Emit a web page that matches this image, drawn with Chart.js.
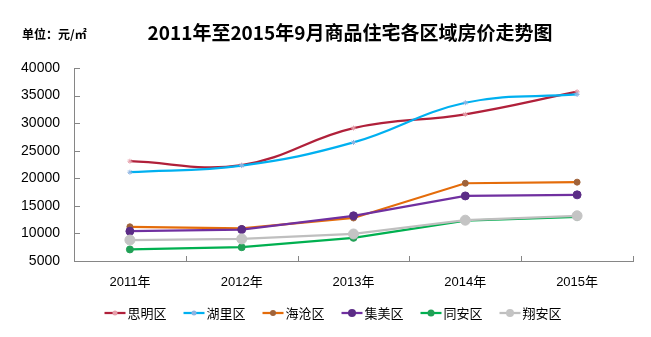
<!DOCTYPE html>
<html><head><meta charset="utf-8">
<script src="https://cdn.jsdelivr.net/npm/chart.js@4.4.1/dist/chart.umd.min.js"></script>
<style>html,body{margin:0;padding:0;background:#fff}#wrap{width:651px;height:337px;position:relative}</style>
</head><body><div id="wrap"><canvas id="c" width="651" height="337"></canvas></div>
<script>
const categories = ['2011年','2012年','2013年','2014年','2015年'];
const siming  = [23100, 22400, 29100, 31600, 35700];
const huli    = [21100, 22300, 26500, 33700, 35200];
const haicang = [11200, 10900, 12800, 19100, 19300];
const jimei   = [10400, 10700, 13200, 16800, 17000];
const tongan  = [7100, 7500, 9200, 12300, 13000];
const xiangan = [8800, 9000, 9900, 12400, 13200];
const seriesNames = ['思明区','湖里区','海沧区','集美区','同安区','翔安区'];
const yTicks = [5000, 10000, 15000, 20000, 25000, 30000, 35000, 40000];
const titleText = '2011年至2015年9月商品住宅各区域房价走势图';
const unitText = '单位：元/㎡';

const CJK = '"Liberation Sans","Noto Sans CJK SC",sans-serif';
const styles = [
  {c:'#B0203A', pc:'#E6A0AC', r:2.5, ps:'star', tension:0.4},
  {c:'#00B0F0', pc:'#8DB4E2', r:2.5, ps:'star', tension:0.4},
  {c:'#E46C0A', pc:'#A0633A', r:3, ps:'circle', tension:0},
  {c:'#7030A0', pc:'#5B2C86', r:4, ps:'circle', tension:0},
  {c:'#00B050', pc:'#21A056', r:3.5, ps:'circle', tension:0},
  {c:'#BFBFBF', pc:'#C4C4C4', r:5, ps:'circle', tension:0}
];
const dataArrays = [siming, huli, haicang, jimei, tongan, xiangan];

const datasets = dataArrays.map((d,i)=>({
  label: seriesNames[i], data: d,
  borderColor: styles[i].c, backgroundColor: styles[i].pc,
  pointBackgroundColor: styles[i].pc, pointBorderColor: styles[i].pc,
  pointRadius: styles[i].r, pointStyle: styles[i].ps, pointBorderWidth: 1,
  borderWidth: 2.25, tension: styles[i].tension, cubicInterpolationMode: 'default',
  order: 5 - i, fill: false
}));

const decor = {
  id: 'decor',
  afterDraw(chart){
    const ctx = chart.ctx, a = chart.chartArea;
    ctx.save();
    ctx.fillStyle = '#000';
    ctx.textBaseline = 'middle';
    ctx.textAlign = 'center';
    ctx.font = 'bold 19px "Noto Sans CJK SC","Liberation Sans",sans-serif';
    ctx.fillText(titleText, 350, 33);
    ctx.textAlign = 'left';
    ctx.font = 'bold 12px "Noto Sans CJK SC","Liberation Sans",sans-serif';
    ctx.fillText(unitText, 22, 34);
    ctx.strokeStyle = '#868686'; ctx.lineWidth = 1;
    const ys = chart.scales.y;
    yTicks.forEach(v=>{
      const y = Math.round(ys.getPixelForValue(v)) + 0.5;
      ctx.beginPath(); ctx.moveTo(a.left, y); ctx.lineTo(a.left + 6, y); ctx.stroke();
    });
    const n = categories.length, step = (a.right - a.left)/n;
    for(let i=1;i<=n;i++){
      const x = Math.round(a.left + step*i) + 0.5;
      ctx.beginPath(); ctx.moveTo(x, a.bottom); ctx.lineTo(x, a.bottom - 5); ctx.stroke();
    }
    ctx.font = '13px "Noto Sans CJK SC","Liberation Sans",sans-serif';
    const lineLen = 21, gap = 2, itemGap = 17;
    const widths = seriesNames.map(s=> lineLen + gap + ctx.measureText(s).width);
    const total = widths.reduce((p,q)=>p+q,0) + itemGap*(n);
    let x = 333 - total/2;
    const ly = 313;
    chart.data.datasets.forEach((ds,i)=>{
      const st = styles[i];
      ctx.strokeStyle = st.c; ctx.lineWidth = 2.25;
      ctx.beginPath(); ctx.moveTo(x, ly); ctx.lineTo(x+lineLen, ly); ctx.stroke();
      ctx.fillStyle = st.pc;
      ctx.beginPath(); ctx.arc(x+lineLen/2, ly, Math.min(st.r, 4), 0, Math.PI*2); ctx.fill();
      ctx.fillStyle = '#000';
      ctx.textAlign = 'left';
      ctx.fillText(seriesNames[i], x+lineLen+gap, ly);
      x += widths[i] + itemGap;
    });
    ctx.restore();
  }
};

new Chart(document.getElementById('c'), {
  type: 'line',
  data: { labels: categories, datasets },
  options: {
    responsive: false, animation: false, devicePixelRatio: 1,
    layout: { padding: { top: 68, left: 0, right: 18, bottom: 0 } },
    plugins: { legend: { display: false }, title: { display: false }, tooltip: { enabled: false } },
    scales: {
      x: {
        offset: true,
        grid: { display: false, drawTicks: false },
        border: { display: true, color: '#868686', width: 1 },
        ticks: { padding: 14, color: '#000', font: { size: 13, family: CJK } },
        afterFit(s){ s.height = 76; }
      },
      y: {
        min: 5000, max: 40000,
        afterBuildTicks(s){ s.ticks = yTicks.map(v=>({value:v})); },
        grid: { display: false, drawTicks: false },
        border: { display: true, color: '#868686', width: 1 },
        ticks: { padding: 14, color: '#000', font: { size: 14, family: CJK }, callback: v => String(v) },
        afterFit(s){ s.width = 74; }
      }
    }
  },
  plugins: [decor]
});
</script></body></html>
